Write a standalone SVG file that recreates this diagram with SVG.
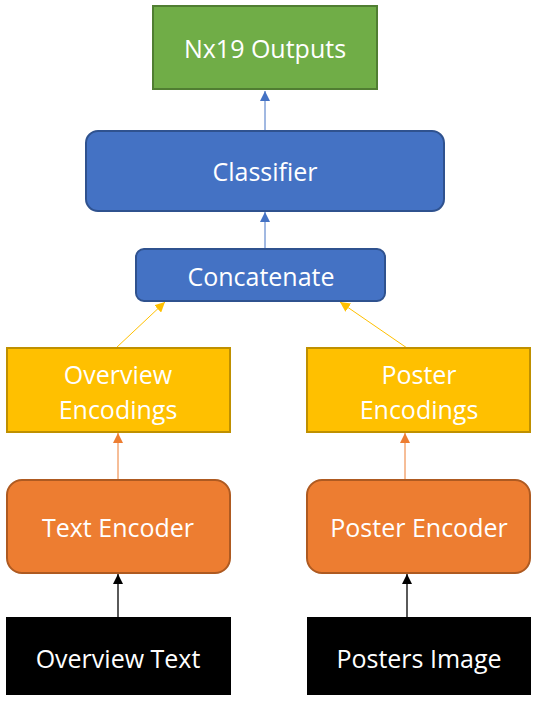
<svg xmlns="http://www.w3.org/2000/svg" width="538" height="704" viewBox="0 0 538 704">
<style>
text{font-family:"Open Sans","Noto Sans",sans-serif;font-size:25px;fill:#fff;text-anchor:middle;dominant-baseline:central}
.g{fill:#70AD47;stroke:#507E32;stroke-width:2}
.b{fill:#4472C4;stroke:#2F528F;stroke-width:2}
.y{fill:#FFC000;stroke:#BF9000;stroke-width:2}
.o{fill:#ED7D31;stroke:#AE5A21;stroke-width:2}
.k{fill:#000}
</style>
<defs>
<marker id="ab" viewBox="0 0 10 10" refX="10" refY="5" markerWidth="10" markerHeight="10" markerUnits="userSpaceOnUse" orient="auto"><path d="M0,0L10,5L0,10z" fill="#4472C4"/></marker>
<marker id="ay" viewBox="0 0 10 10" refX="10" refY="5" markerWidth="10" markerHeight="10" markerUnits="userSpaceOnUse" orient="auto"><path d="M0,0L10,5L0,10z" fill="#FFC000"/></marker>
<marker id="ao" viewBox="0 0 10 10" refX="10" refY="5" markerWidth="10" markerHeight="10" markerUnits="userSpaceOnUse" orient="auto"><path d="M0,0L10,5L0,10z" fill="#ED7D31"/></marker>
<marker id="ak" viewBox="0 0 10 10" refX="10" refY="5" markerWidth="10" markerHeight="10" markerUnits="userSpaceOnUse" orient="auto"><path d="M0,0L10,5L0,10z" fill="#000"/></marker>
</defs>
<g id="connectors">
<line x1="265" y1="131" x2="265" y2="91" stroke="#4472C4" stroke-width="1" marker-end="url(#ab)"/>
<line x1="265" y1="249" x2="265" y2="212" stroke="#4472C4" stroke-width="1" marker-end="url(#ab)"/>
<line x1="116" y1="348" x2="165" y2="302" stroke="#FFC000" stroke-width="1" marker-end="url(#ay)"/>
<line x1="407" y1="348" x2="340" y2="302" stroke="#FFC000" stroke-width="1" marker-end="url(#ay)"/>
<line x1="118" y1="480" x2="118" y2="433" stroke="#ED7D31" stroke-width="1" marker-end="url(#ao)"/>
<line x1="405" y1="480" x2="405" y2="433" stroke="#ED7D31" stroke-width="1" marker-end="url(#ao)"/>
<line x1="118" y1="617" x2="118" y2="574" stroke="#000" stroke-width="1.3" marker-end="url(#ak)"/>
<line x1="407" y1="617" x2="407" y2="574" stroke="#000" stroke-width="1.3" marker-end="url(#ak)"/>
</g>
<g id="outputs"><rect class="g" x="153" y="6" width="224" height="83"/><text x="265" y="48">Nx19 Outputs</text></g>
<g id="classifier"><rect class="b" x="86" y="131" width="358" height="80" rx="12"/><text x="265" y="171">Classifier</text></g>
<g id="concatenate"><rect class="b" x="136" y="249" width="249" height="52" rx="8"/><text x="261" y="276">Concatenate</text></g>
<g id="overview-enc"><rect class="y" x="7" y="348" width="223" height="84"/><text x="118" y="374">Overview</text><text x="118" y="409">Encodings</text></g>
<g id="poster-enc"><rect class="y" x="307" y="348" width="223" height="84"/><text x="419" y="374">Poster</text><text x="419" y="409">Encodings</text></g>
<g id="text-encoder"><rect class="o" x="7" y="480" width="223" height="93" rx="15"/><text x="118" y="527">Text Encoder</text></g>
<g id="poster-encoder"><rect class="o" x="307" y="480" width="223" height="93" rx="15"/><text x="419" y="527">Poster Encoder</text></g>
<g id="overview-text"><rect class="k" x="6" y="617" width="225" height="78"/><text x="118" y="658">Overview Text</text></g>
<g id="posters-image"><rect class="k" x="307" y="617" width="224" height="78"/><text x="419" y="658">Posters Image</text></g>
</svg>
